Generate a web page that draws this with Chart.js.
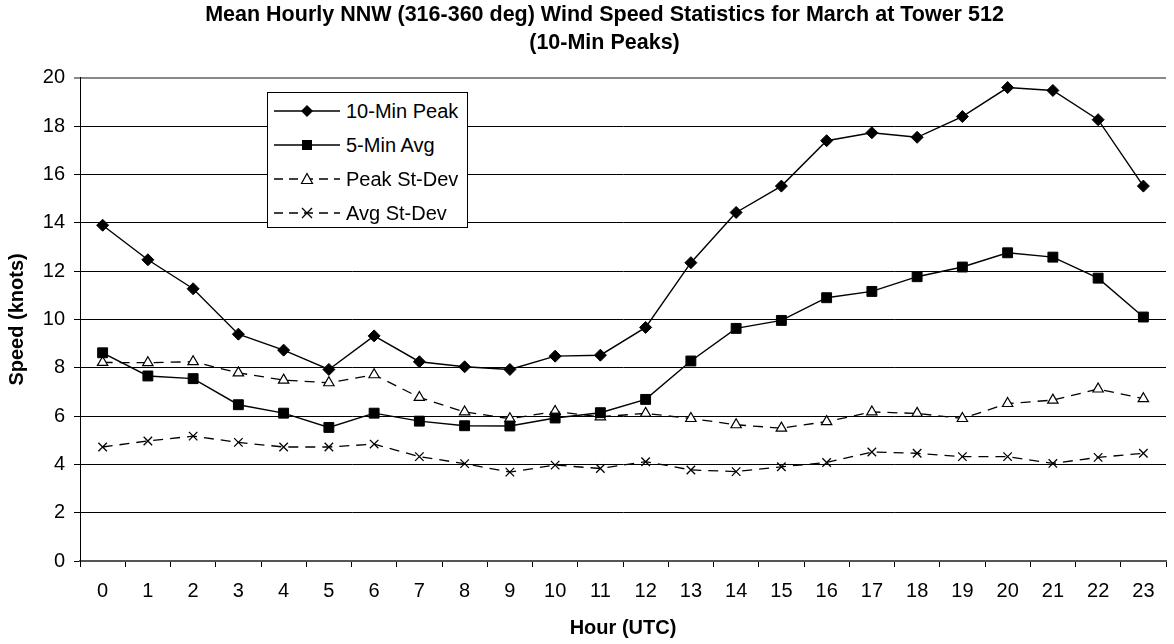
<!DOCTYPE html>
<html>
<head>
<meta charset="utf-8">
<script src="https://cdn.jsdelivr.net/npm/chart.js@4.4.1/dist/chart.umd.min.js"></script>
<style>
  body { margin: 0; background: #fff; }
  #wrap { position: relative; width: 1174px; height: 644px; }
  #legend {
    position: absolute; left: 267px; top: 92px; width: 199px; height: 134px;
    border: 1px solid #000; background: #fff;
    font-family: "Liberation Sans", Arial, sans-serif; font-size: 20px; color: #000;
  }
</style>
</head>
<body>
<div id="wrap">
  <canvas id="myChart" width="1174" height="644"></canvas>
  <div id="legend"></div>
</div>
<script>
const hours = ['0', '1', '2', '3', '4', '5', '6', '7', '8', '9', '10', '11',
  '12', '13', '14', '15', '16', '17', '18', '19', '20', '21', '22', '23'];
const peak10 = [13.9, 12.47, 11.27, 9.39, 8.73, 7.93, 9.32, 8.25, 8.04, 7.93, 8.48, 8.52,
  9.67, 12.35, 14.43, 15.52, 17.4, 17.73, 17.54, 18.4, 19.6, 19.48, 18.27, 15.52];
const avg5 = [8.62, 7.66, 7.55, 6.47, 6.12, 5.53, 6.12, 5.79, 5.6, 5.59, 5.92, 6.14,
  6.69, 8.28, 9.63, 9.96, 10.9, 11.16, 11.77, 12.17, 12.76, 12.58, 11.71, 10.1];
const peakSd = [8.22, 8.21, 8.25, 7.79, 7.49, 7.38, 7.71, 6.77, 6.17, 5.89, 6.19, 5.97,
  6.11, 5.9, 5.64, 5.5, 5.77, 6.17, 6.11, 5.9, 6.52, 6.66, 7.12, 6.72];
const avgSd = [4.72, 4.97, 5.17, 4.91, 4.72, 4.72, 4.84, 4.32, 4.03, 3.68, 3.97, 3.83,
  4.11, 3.77, 3.7, 3.9, 4.08, 4.51, 4.46, 4.32, 4.32, 4.04, 4.29, 4.46];

const seriesNames = ['10-Min Peak', '5-Min Avg', 'Peak St-Dev', 'Avg St-Dev'];
const chartTitle = ['Mean Hourly NNW (316-360 deg) Wind Speed Statistics for March at Tower 512', '(10-Min Peaks)'];

const FONT = '"Liberation Sans", Arial, sans-serif';

// svg markers for the html legend
const markerSvg = {
  rectRot: '<polygon points="33,11 39,17 33,23 27,17" fill="#000"/>',
  rect: '<rect x="28" y="12" width="10" height="10" fill="#000"/>',
  triangle: '<polygon points="33,11.5 38.5,21.5 27.5,21.5" fill="#fff" stroke="#000" stroke-width="1.2"/>',
  crossRot: '<path d="M28,12 L38,22 M38,12 L28,22" stroke="#000" stroke-width="1.3"/>',
};

const htmlLegendPlugin = {
  id: 'htmlLegend',
  afterUpdate(chart, args, options) {
    const box = document.getElementById(options.containerID);
    box.innerHTML = '';
    const ul = document.createElement('ul');
    ul.style.listStyle = 'none';
    ul.style.margin = 0;
    ul.style.padding = '1px 0 0 6px';
    chart.data.datasets.forEach((ds) => {
      const li = document.createElement('li');
      li.style.display = 'flex';
      li.style.alignItems = 'center';
      li.style.height = '34px';
      const dash = ds.borderDash && ds.borderDash.length ? 'stroke-dasharray="9 6"' : '';
      const sample = document.createElement('span');
      sample.style.display = 'inline-block';
      sample.style.width = '66px';
      sample.style.height = '34px';
      sample.innerHTML = '<svg width="66" height="34" viewBox="0 0 66 34">' +
        '<line x1="0" y1="17" x2="66" y2="17" stroke="#000" stroke-width="1.4" ' + dash + '/>' +
        markerSvg[ds.pointStyle] + '</svg>';
      const text = document.createElement('span');
      text.style.marginLeft = '6px';
      text.style.whiteSpace = 'nowrap';
      text.textContent = ds.label;
      li.appendChild(sample);
      li.appendChild(text);
      ul.appendChild(li);
    });
    box.appendChild(ul);
  },
};

// the title sits a little right of the canvas centre in the original
const titleShift = {
  id: 'titleShift',
  afterLayout(chart) {
    if (chart.titleBlock) chart.titleBlock.left = 35;
  },
};

const ctx = document.getElementById('myChart');

new Chart(ctx, {
  type: 'line',
  data: {
    labels: hours,
    datasets: [
      {
        label: seriesNames[0], data: peak10,
        borderColor: '#000', borderWidth: 1.4, backgroundColor: '#000',
        pointStyle: 'rectRot', pointRadius: 6, pointBorderWidth: 1,
      },
      {
        label: seriesNames[1], data: avg5,
        borderColor: '#000', borderWidth: 1.4, backgroundColor: '#000',
        pointStyle: 'rect', pointRadius: 7, pointBorderWidth: 1,
      },
      {
        label: seriesNames[2], data: peakSd,
        borderColor: '#000', borderWidth: 1.3, borderDash: [10, 7], backgroundColor: '#fff',
        pointStyle: 'triangle', pointRadius: 6, pointBorderWidth: 1.2,
      },
      {
        label: seriesNames[3], data: avgSd,
        borderColor: '#000', borderWidth: 1.3, borderDash: [10, 7], backgroundColor: '#000',
        pointStyle: 'crossRot', pointRadius: 6, pointBorderWidth: 1.3,
      },
    ],
  },
  options: {
    responsive: false,
    animation: false,
    layout: { padding: 0 },
    plugins: {
      htmlLegend: { containerID: 'legend' },
      legend: { display: false },
      tooltip: { enabled: false },
      title: {
        display: true,
        text: chartTitle,
        color: '#000',
        font: { family: FONT, size: 21.5, weight: 'bold', lineHeight: 1.3 },
        padding: { top: 1, bottom: 21 },
      },
    },
    scales: {
      x: {
        offset: true,
        grid: { offset: true, drawOnChartArea: false, drawTicks: true, tickLength: 6, color: '#000' },
        border: { color: '#555', width: 2 },
        ticks: { color: '#000', font: { family: FONT, size: 20 }, padding: 12, maxRotation: 0, autoSkip: false },
        title: {
          display: true, text: 'Hour (UTC)', color: '#000',
          font: { family: FONT, size: 20, weight: 'bold' }, padding: { top: 0, bottom: 4 },
        },
        afterFit(scale) { scale.height = 83; },
      },
      y: {
        min: 0,
        max: 20,
        grid: {
          color: (c) => (c.tick && c.tick.value === 20 ? '#888' : '#000'),
          lineWidth: (c) => (c.tick && c.tick.value === 20 ? 2 : 1),
          tickLength: 6,
        },
        border: { color: '#000', width: 1 },
        ticks: { stepSize: 2, color: '#000', font: { family: FONT, size: 20 }, padding: 9 },
        title: {
          display: true, text: 'Speed (knots)', color: '#000',
          font: { family: FONT, size: 20, weight: 'bold' }, padding: { top: 5, bottom: 0 },
        },
        afterFit(scale) { scale.width = 80; },
      },
    },
  },
  plugins: [htmlLegendPlugin, titleShift],
});
</script>
</body>
</html>
